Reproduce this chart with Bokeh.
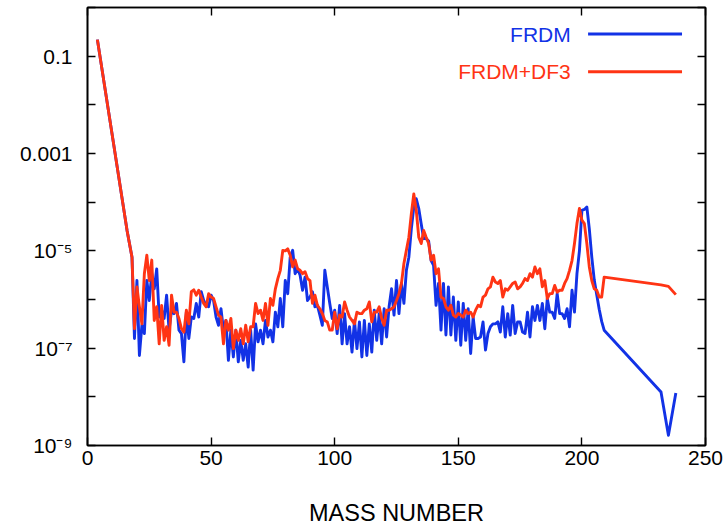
from bokeh.plotting import figure
from bokeh.models import (Range1d, FixedTicker, LinearAxis, LogAxis,
                          CustomJSTickFormatter, CustomLabelingPolicy, Label, Arrow)
from bokeh.embed import file_html
from bokeh.resources import INLINE

# ---------------- data ----------------
# mass numbers
mass_light = [4, 16, 18]
mass_mid = list(range(19, 210))          # A = 19 ... 209
mass_tail = [232, 235, 238]

# log10 of abundance, light region (identical for both models)
light_log10 = [-0.66, -4.58, -5.13]

# FRDM, A = 19 ... 209
frdm_mid_log10 = [
    -6.80, -5.61, -7.15, -6.53, -6.70, -5.61, -6.02, -5.47, -5.78, -5.37,   # 19-28
    -6.36, -6.22, -6.39, -5.91, -6.63, -6.22, -6.29, -6.08, -6.63, -6.70,   # 29-38
    -7.28, -6.26, -6.80, -6.36, -6.39, -6.08, -6.36, -5.84, -6.02, -6.12,   # 39-48
    -6.15, -5.91, -6.02, -6.36, -6.53, -6.19, -6.63, -6.43, -7.25, -6.63,   # 49-58
    -7.18, -6.63, -7.28, -6.84, -7.25, -6.91, -7.39, -6.63, -7.45, -6.50,   # 59-68
    -6.87, -6.63, -6.91, -6.43, -6.77, -6.63, -6.87, -6.26, -6.56, -5.98,   # 69-78
    -6.56, -5.61, -5.88, -5.13, -4.99, -5.47, -5.37, -5.50, -5.81, -5.54,   # 79-88
    -6.02, -5.95, -5.84, -6.15, -6.12, -6.32, -6.53, -5.40, -5.74, -6.08,   # 89-98
    -6.39, -6.22, -6.70, -6.12, -6.91, -6.29, -6.91, -6.56, -7.08, -6.43,   # 99-108
    -7.01, -6.46, -7.18, -6.43, -7.15, -6.50, -7.08, -6.22, -6.84, -6.29,   # 109-118
    -6.91, -6.19, -6.77, -6.15, -5.78, -6.32, -5.61, -6.29, -5.67, -6.08,   # 119-128
    -5.40, -5.13, -4.55, -4.10, -3.93, -4.13, -4.45, -4.75, -4.75, -4.80,   # 129-138
    -5.20, -5.30, -6.12, -5.67, -6.63, -5.67, -6.73, -5.74, -6.73, -5.95,   # 139-148
    -6.84, -6.05, -6.94, -6.08, -6.84, -6.19, -7.11, -6.36, -6.80, -6.80,   # 149-158
    -6.77, -6.46, -7.04, -6.70, -6.56, -6.50, -6.50, -6.46, -6.67, -6.15,   # 159-168
    -6.77, -6.29, -6.73, -6.12, -6.70, -6.46, -6.46, -6.67, -6.70, -6.26,   # 169-178
    -6.77, -6.15, -6.43, -6.12, -6.43, -6.08, -6.60, -5.98, -6.26, -6.26,   # 179-188
    -6.39, -5.88, -6.29, -6.29, -6.39, -6.19, -6.56, -5.81, -6.26, -5.47,   # 189-198
    -5.00, -4.17, -4.15, -4.10, -4.55, -5.13, -5.60, -5.90, -6.20, -6.45,   # 199-208
    -6.63,                                                                  # 209
]
frdm_tail_log10 = [-7.90, -8.79, -7.92]

# FRDM+DF3, A = 19 ... 209
df3_mid_log10 = [
    -6.60, -5.74, -6.15, -6.50, -5.47, -5.09, -5.61, -5.19, -6.43, -6.15,   # 19-28
    -6.91, -6.12, -6.84, -6.56, -6.94, -5.91, -6.26, -6.26, -6.39, -6.60,   # 29-38
    -6.67, -6.22, -6.50, -5.84, -5.80, -5.91, -5.81, -5.95, -6.08, -6.15,   # 39-48
    -5.88, -5.95, -5.98, -6.15, -6.32, -6.36, -6.91, -6.43, -6.63, -6.39,   # 49-58
    -7.01, -6.63, -6.84, -6.60, -6.91, -6.53, -6.87, -6.56, -6.56, -6.08,   # 59-68
    -6.29, -6.22, -6.43, -6.08, -6.53, -5.98, -6.12, -5.78, -5.57, -5.40,   # 69-78
    -4.99, -5.00, -4.96, -5.09, -5.33, -5.19, -5.37, -5.40, -5.47, -5.43,   # 79-88
    -5.57, -5.61, -6.08, -5.91, -6.12, -6.19, -6.29, -6.43, -6.46, -6.63,   # 89-98
    -6.63, -6.26, -6.60, -6.32, -6.36, -6.05, -6.22, -6.36, -6.43, -6.50,   # 99-108
    -6.26, -6.29, -6.29, -6.22, -6.19, -6.05, -6.46, -6.26, -6.26, -6.15,   # 109-118
    -6.39, -6.53, -6.22, -6.22, -6.19, -6.15, -6.02, -5.88, -5.67, -5.26,   # 119-128
    -4.99, -4.72, -4.24, -3.83, -4.17, -4.72, -4.85, -4.58, -4.72, -4.85,   # 129-138
    -5.19, -5.09, -5.47, -5.37, -5.95, -5.98, -6.15, -6.22, -6.12, -6.32,   # 139-148
    -6.36, -6.29, -6.32, -6.36, -6.22, -6.29, -6.26, -6.36, -6.22, -6.12,   # 149-158
    -6.15, -5.95, -5.91, -5.78, -5.74, -5.54, -5.64, -5.67, -5.61, -5.95,   # 159-168
    -5.78, -5.81, -5.74, -5.67, -5.64, -5.78, -5.74, -5.67, -5.57, -5.61,   # 169-178
    -5.47, -5.54, -5.33, -5.47, -5.37, -5.74, -5.61, -5.98, -5.88, -5.88,   # 179-188
    -5.71, -5.85, -5.81, -5.81, -5.67, -5.57, -5.40, -5.20, -4.85, -4.44,   # 189-198
    -4.13, -4.37, -4.44, -4.85, -5.33, -5.61, -5.78, -5.81, -5.95, -5.95,   # 199-208
    -5.54,                                                                  # 209
]
df3_tail_log10 = [-5.70, -5.73, -5.90]

x_ticks = [0, 50, 100, 150, 200, 250]
y_major_ticks = [1e-9, 1e-7, 1e-5, 1e-3, 1e-1]
y_minor_ticks = [1e-8, 1e-6, 1e-4, 1e-2, 1.0]
series_names = ["FRDM", "FRDM+DF3"]
series_colors = ["#1232e6", "#ff3414"]

# ---------------- build series ----------------
mass = mass_light + mass_mid + mass_tail
frdm = [10 ** v for v in light_log10 + frdm_mid_log10 + frdm_tail_log10]
df3 = [10 ** v for v in light_log10 + df3_mid_log10 + df3_tail_log10]

FONT = "Liberation Sans"
LW = 2.9

p = figure(frame_width=618, frame_height=438,
           x_range=Range1d(0, 250), y_range=Range1d(1e-9, 1.0),
           y_axis_type="log", output_backend="svg", toolbar_location=None,
           min_border_left=87, min_border_right=22, min_border_top=7,
           min_border_bottom=0)
p.background_fill_color = "white"
p.border_fill_color = "white"
p.outline_line_color = "black"
p.outline_line_width = 1.6
p.xgrid.visible = False
p.ygrid.visible = False

p.line(mass, frdm, line_color=series_colors[0], line_width=LW, line_join="round")
p.line(mass, df3, line_color=series_colors[1], line_width=LW, line_join="round")

# ---- axes ----
xa = p.xaxis[0]
xa.ticker = FixedTicker(ticks=x_ticks)
xa.axis_label = "MASS NUMBER"
xa.axis_label_text_font = FONT
xa.axis_label_text_font_size = "23.5px"
xa.axis_label_text_font_style = "normal"
xa.axis_label_text_color = "black"
xa.axis_label_standoff = 32
xa.major_label_text_font = FONT
xa.major_label_text_font_size = "21px"
xa.major_label_text_color = "black"
xa.major_label_standoff = 5

ya = p.yaxis[0]
ya.ticker = FixedTicker(ticks=y_major_ticks, minor_ticks=y_minor_ticks)
ya.formatter = CustomJSTickFormatter(code="""
    const e = Math.round(Math.log10(tick));
    if (e == -1) return "0.1";
    if (e == -3) return "0.001";
    const sup = {"0":"\u2070","1":"\u00b9","2":"\u00b2","3":"\u00b3","4":"\u2074",
                 "5":"\u2075","6":"\u2076","7":"\u2077","8":"\u2078","9":"\u2079","-":"\u207b"};
    return "10" + String(e).split("").map(c => sup[c]).join("");
""")
ya.major_label_text_font = FONT
ya.major_label_text_font_size = "21px"
ya.major_label_text_color = "black"
ya.major_label_standoff = 15

no_labels = CustomLabelingPolicy(code="return new indices.constructor(indices.size)")

top = LinearAxis(ticker=FixedTicker(ticks=x_ticks), major_label_text_font_size="1px",
                 major_label_policy=no_labels, major_label_standoff=0)
p.add_layout(top, "above")
right = LogAxis(ticker=FixedTicker(ticks=y_major_ticks, minor_ticks=y_minor_ticks),
                major_label_text_font_size="1px", major_label_policy=no_labels,
                major_label_standoff=0)
p.add_layout(right, "right")

for ax in (xa, ya, top, right):
    ax.axis_line_color = "black"
    ax.axis_line_width = 1.6
    ax.major_tick_in = 8
    ax.major_tick_out = 0
    ax.major_tick_line_color = "black"
    ax.major_tick_line_width = 1.4
    ax.minor_tick_in = 8
    ax.minor_tick_out = 0
    ax.minor_tick_line_color = "black"
    ax.minor_tick_line_width = 1.4
xa.minor_tick_line_color = None
top.minor_tick_line_color = None

# ---- legend (text left of sample line, right aligned) ----
legend_rows_y = [10 ** -0.545, 10 ** -1.32]
for name, color, yy in zip(series_names, series_colors, legend_rows_y):
    p.add_layout(Label(x=195.5, y=yy, text=name, text_align="right",
                       text_baseline="middle", text_font=FONT,
                       text_font_size="21px", text_color=color))
    p.add_layout(Arrow(end=None, x_start=202.5, y_start=yy, x_end=240.5, y_end=yy,
                       line_color=color, line_width=LW))

open("out.html", "w").write(file_html(p, INLINE))
